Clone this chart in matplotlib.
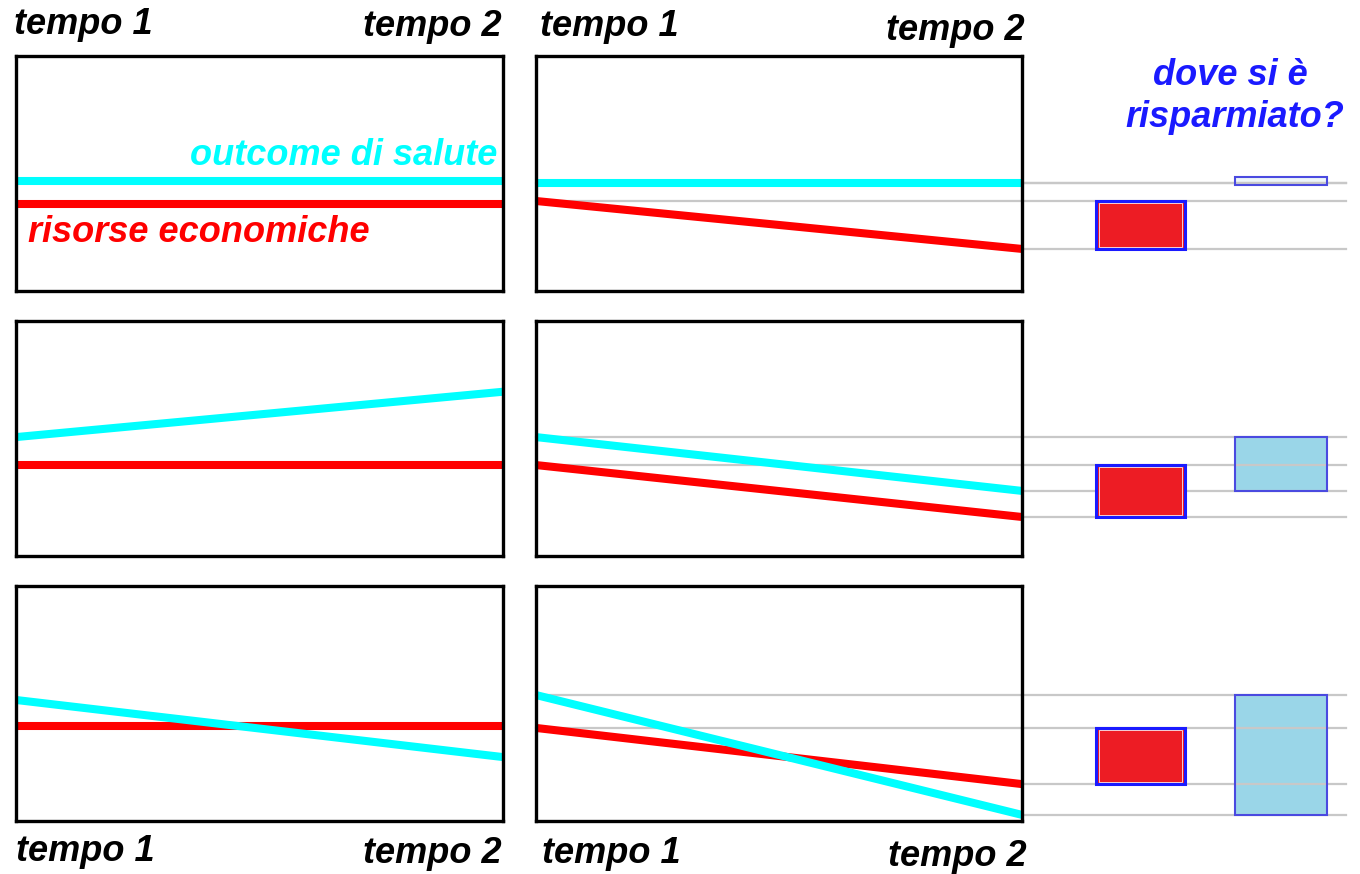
import matplotlib.pyplot as plt

# levels: 0 = bottom of a panel, 100 = top
# each pair is [tempo 1, tempo 2], one pair per row
left_outcome = [[47.0, 47.0], [50.6, 69.9], [51.5, 27.2]]
left_resources = [[37.0, 37.0], [38.7, 38.7], [40.4, 40.4]]
right_outcome = [[46.0, 46.0], [50.6, 27.7], [53.6, 2.6]]
right_resources = [[38.3, 17.9], [38.7, 16.6], [39.6, 15.7]]

time_labels = ["tempo 1", "tempo 2"]
outcome_label = "outcome di salute"
resources_label = "risorse economiche"
question = ["dove si è", "risparmiato?"]

CYAN = "#00ffff"
RED = "#ff0000"
BAR_RED = "#ed1c24"
BAR_BLUE = "#9ad6e8"
TEXT_BLUE = "#1a1aff"
GRAY = "#c8c8c8"

W, H = 1360, 874
fig = plt.figure(figsize=(W / 100, H / 100), dpi=100)
font = dict(family="Liberation Sans", weight="bold", style="italic", size=26)


def px_box(x0, y0, x1, y1):
    return [x0 / W, 1 - y1 / H, (x1 - x0) / W, (y1 - y0) / H]


def px_text(x, y, s, **kw):
    fig.text(x / W, 1 - y / H, s, va="baseline", **font, **kw)


def panel(x0, x1, y0, y1):
    ax = fig.add_axes(px_box(x0, y0, x1, y1))
    ax.set_xlim(0, 1)
    ax.set_ylim(0, 100)
    ax.set_xticks([])
    ax.set_yticks([])
    for sp in ax.spines.values():
        sp.set_linewidth(2.4)
        sp.set_color("black")
        sp.set_zorder(6)
    return ax


row_y = [(56, 291), (321, 556), (586, 821)]
col_x = [(16, 503), (536, 1022)]

# right part of the right column, in panel x units (tempo 1 = 0, tempo 2 = 1)
guide_end = 1.667
red_bar_x, blue_bar_x = 1.243, 1.533
bar_w_red, bar_w_blue = 0.183, 0.191

for i, (y0, y1) in enumerate(row_y):
    # left column: one quantity changes
    ax = panel(col_x[0][0], col_x[0][1], y0, y1)
    ax.plot([0, 1], left_resources[i], color=RED, lw=5.8, solid_capstyle="butt", zorder=3)
    ax.plot([0, 1], left_outcome[i], color=CYAN, lw=5.8, solid_capstyle="butt", zorder=3)

    # right column: both change
    ax = panel(col_x[1][0], col_x[1][1], y0, y1)
    oc, rs = right_outcome[i], right_resources[i]
    for v in (oc[0], rs[0]):
        ax.plot([0, guide_end], [v, v], color=GRAY, lw=1.6, zorder=2, clip_on=False)
    for v in (oc[1], rs[1]):
        ax.plot([1, guide_end], [v, v], color=GRAY, lw=1.6, zorder=2, clip_on=False)
    ax.plot([0, 1], rs, color=RED, lw=5.8, solid_capstyle="butt", zorder=3)
    ax.plot([0, 1], oc, color=CYAN, lw=5.8, solid_capstyle="butt", zorder=3)

    # bars: how much each quantity dropped
    d_rs = rs[1] - rs[0]
    ax.bar(red_bar_x, d_rs, bottom=rs[0], width=bar_w_red, color=BAR_RED,
           edgecolor="#1a1aff", linewidth=2.2, zorder=4, clip_on=False)
    ax.bar(red_bar_x, d_rs + 1.6, bottom=rs[0] - 0.8, width=bar_w_red - 0.012,
           facecolor="none", edgecolor="#f4d0d8", linewidth=0.7, zorder=4, clip_on=False)

    d_oc = oc[1] - oc[0]
    if abs(d_oc) < 1:
        # no change: a thin empty box so it's still visible
        h, b, fc = 3.4, oc[0] - 1.0, "#eef6f9"
    else:
        h, b, fc = d_oc, oc[0], BAR_BLUE
    ax.bar(blue_bar_x, h, bottom=b, width=bar_w_blue, color=fc,
           linewidth=0, zorder=1, clip_on=False)
    ax.bar(blue_bar_x, h, bottom=b, width=bar_w_blue, facecolor="none",
           edgecolor="#4a4ae0", linewidth=1.5, zorder=4, clip_on=False)

# series labels in the first panel
px_text(497, 165, outcome_label, ha="right", color=CYAN)
px_text(28, 242, resources_label, ha="left", color=RED)

# time labels above and below the columns
px_text(14, 34, time_labels[0], ha="left")
px_text(502, 36, time_labels[1], ha="right")
px_text(540, 36, time_labels[0], ha="left")
px_text(1025, 40, time_labels[1], ha="right")
px_text(16, 861, time_labels[0], ha="left")
px_text(502, 863, time_labels[1], ha="right")
px_text(542, 863, time_labels[0], ha="left")
px_text(1027, 866, time_labels[1], ha="right")

px_text(1230, 85, question[0], ha="center", color=TEXT_BLUE)
px_text(1235, 127, question[1], ha="center", color=TEXT_BLUE)

fig.savefig("out.png", dpi=100, facecolor="white")
